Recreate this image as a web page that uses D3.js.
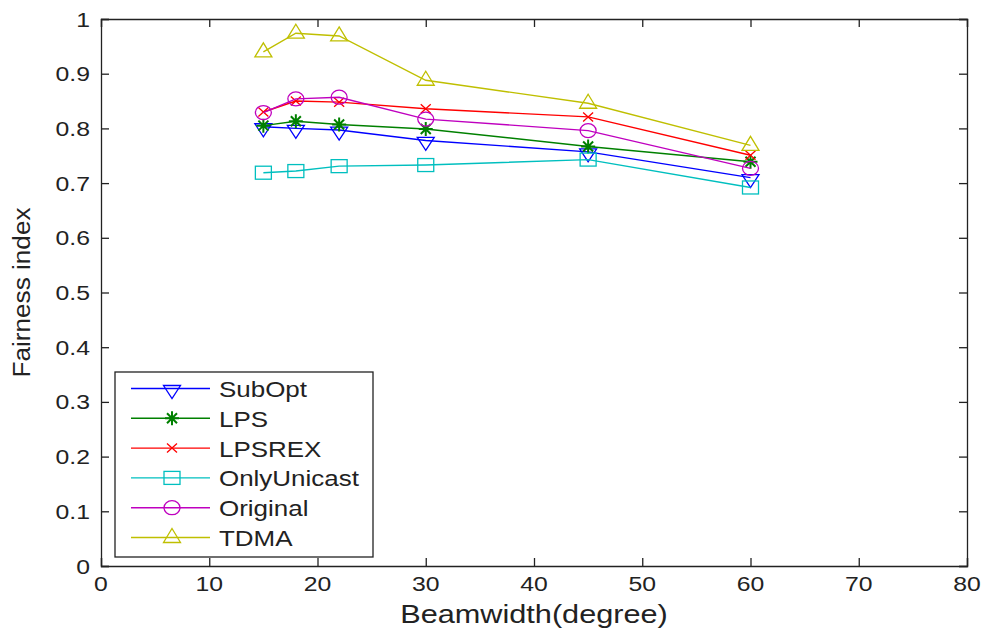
<!DOCTYPE html>
<html>
<head>
<meta charset="utf-8">
<script src="https://cdn.jsdelivr.net/npm/d3@7"></script>
<style>
  body { margin: 0; background: #fff; }
  text { font-family: "Liberation Sans", Arial, sans-serif; fill: #222; }
</style>
</head>
<body>
<div class="chart"></div>
<script>
const beamwidth = [15, 18, 22, 30, 45, 60]
const subOpt      = [0.803, 0.800, 0.797, 0.778, 0.757, 0.710]
const lps         = [0.805, 0.813, 0.807, 0.799, 0.767, 0.739]
const lpsrex      = [0.830, 0.850, 0.848, 0.836, 0.821, 0.751]
const onlyUnicast = [0.719, 0.722, 0.731, 0.733, 0.743, 0.692]
const original    = [0.829, 0.854, 0.857, 0.817, 0.796, 0.727]
const tdma        = [0.940, 0.974, 0.969, 0.888, 0.846, 0.769]
const seriesNames = ["SubOpt", "LPS", "LPSREX", "OnlyUnicast", "Original", "TDMA"]
const xTicks = [0, 10, 20, 30, 40, 50, 60, 70, 80]
const yTicks = [0, 0.1, 0.2, 0.3, 0.4, 0.5, 0.6, 0.7, 0.8, 0.9, 1]

const w = 983, h = 631
const padL = 101, padR = 967, padT = 19, padB = 566
const sx = 1.18 // the picture is a bit wider than tall

const series = [
  {name: seriesNames[0], values: subOpt, color: "#0000ff", marker: "down"},
  {name: seriesNames[1], values: lps, color: "#008000", marker: "star"},
  {name: seriesNames[2], values: lpsrex, color: "#ff0000", marker: "x"},
  {name: seriesNames[3], values: onlyUnicast, color: "#00bfbf", marker: "square"},
  {name: seriesNames[4], values: original, color: "#bf00bf", marker: "circle"},
  {name: seriesNames[5], values: tdma, color: "#bfbf00", marker: "up"}
]

const xScale = d3.scaleLinear().domain([0, 80]).range([padL, padR])
const yScale = d3.scaleLinear().domain([0, 1]).range([padB, padT])

const svg = d3.select(".chart").append("svg").attr("width", w).attr("height", h)

// axes box with inward ticks on all four sides
const axisColor = "#222"
svg.append("g").attr("transform", `translate(0,${padB})`)
  .call(d3.axisBottom(xScale).tickValues(xTicks).tickSize(-8).tickFormat(""))
svg.append("g").attr("transform", `translate(0,${padT})`)
  .call(d3.axisTop(xScale).tickValues(xTicks).tickSize(-8).tickFormat(""))
svg.append("g").attr("transform", `translate(${padL},0)`)
  .call(d3.axisLeft(yScale).tickValues(yTicks).tickSize(-8).tickFormat(""))
svg.append("g").attr("transform", `translate(${padR},0)`)
  .call(d3.axisRight(yScale).tickValues(yTicks).tickSize(-8).tickFormat(""))
svg.selectAll(".domain, .tick line").attr("stroke", axisColor).attr("stroke-width", 1.3)

// tick labels
svg.selectAll(".xlab").data(xTicks).enter().append("text")
  .attr("transform", d => `translate(${xScale(d)},591) scale(${sx},1)`)
  .attr("text-anchor", "middle").style("font-size", "21px")
  .text(d => d)
svg.selectAll(".ylab").data(yTicks).enter().append("text")
  .attr("transform", d => `translate(90,${yScale(d) + 7.5}) scale(${sx},1)`)
  .attr("text-anchor", "end").style("font-size", "21px")
  .text(d => d)

svg.append("text")
  .attr("transform", `translate(${(padL + padR) / 2},623) scale(${sx},1)`)
  .attr("text-anchor", "middle").style("font-size", "26px")
  .text("Beamwidth(degree)")
svg.append("text")
  .attr("transform", `translate(30,${(padT + padB) / 2}) rotate(-90)`)
  .attr("text-anchor", "middle").style("font-size", "23px")
  .attr("textLength", 170).attr("lengthAdjust", "spacingAndGlyphs")
  .text("Fairness index")

function drawMarker(g, type, color) {
  let m
  if (type === "down") m = g.append("path").attr("d", "M-8.5,-3 L8.5,-3 L0,10 Z")
  else if (type === "up") m = g.append("path").attr("d", "M0,-9 L8.5,5 L-8.5,5 Z")
  else if (type === "square") m = g.append("rect").attr("x", -8).attr("y", -6.5).attr("width", 16).attr("height", 13)
  else if (type === "circle") m = g.append("ellipse").attr("rx", 8).attr("ry", 7)
  else if (type === "x") m = g.append("path").attr("d", "M-5,-4.5 L5,4.5 M-5,4.5 L5,-4.5")
  else m = g.append("path").attr("d", "M0,-7 L0,7 M-7,0 L7,0 M-5,-5 L5,5 M-5,5 L5,-5")
  m.attr("fill", "none").attr("stroke", color).attr("stroke-width", type === "star" ? 2 : 1.3)
}

const line = d3.line().x(d => xScale(d[0])).y(d => yScale(d[1]))

series.forEach(sr => {
  const pts = beamwidth.map((b, i) => [b, sr.values[i]])
  svg.append("path").datum(pts).attr("d", line)
    .attr("fill", "none").attr("stroke", sr.color).attr("stroke-width", 1.4)
  svg.selectAll(null).data(pts).enter().append("g")
    .attr("transform", d => `translate(${xScale(d[0])},${yScale(d[1])})`)
    .each(function() { drawMarker(d3.select(this), sr.marker, sr.color) })
})

// legend
const legend = svg.append("g")
legend.append("rect").attr("x", 115).attr("y", 372).attr("width", 258).attr("height", 185)
  .attr("fill", "#fff").attr("stroke", axisColor).attr("stroke-width", 1.3)
series.forEach((sr, i) => {
  const y = 388.5 + i * 29.8
  legend.append("line").attr("x1", 131).attr("x2", 210).attr("y1", y).attr("y2", y)
    .attr("stroke", sr.color).attr("stroke-width", 1.4)
  const g = legend.append("g").attr("transform", `translate(172,${y})`)
  drawMarker(g, sr.marker, sr.color)
  legend.append("text")
    .attr("transform", `translate(219,${y + 8.5}) scale(${sx},1)`)
    .style("font-size", "22px")
    .text(sr.name)
})
</script>
</body>
</html>
